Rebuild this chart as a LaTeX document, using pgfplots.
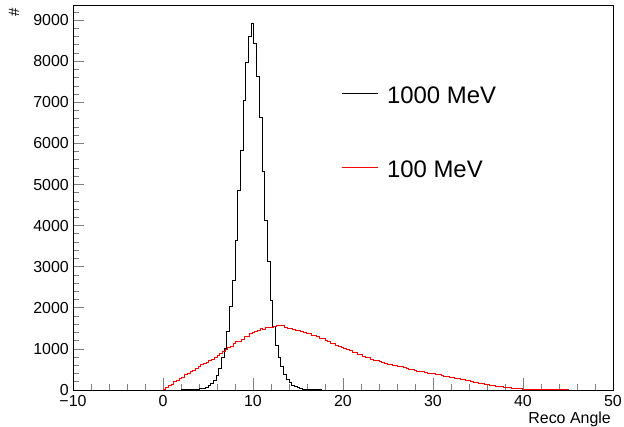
\documentclass[border=0pt]{standalone}
\usepackage{fontspec}
\setmainfont{Liberation Sans}
\usepackage{pgfplots}
\usepackage{pgfplotstable}
\pgfplotsset{compat=1.18}

% 200 bins of 0.3 from -10 to 50, left edge and content
\pgfplotstableread{
x y
-10 0
2.0 1
2.3 2
2.6 3
2.9 5
3.2 8
3.5 13
3.8 20
4.1 30
4.4 45
4.7 65
5.0 100
5.3 150
5.6 243
5.9 365
6.2 527
6.5 780
6.8 1010
7.1 1419
7.4 2027
7.7 2676
8.0 3649
8.3 4865
8.6 5838
8.9 7054
9.2 7963
9.5 8595
9.8 8920
10.1 8433
10.4 7638
10.7 6624
11.0 5311
11.3 4135
11.6 3122
11.9 2189
12.2 1540
12.5 1095
12.8 800
13.1 560
13.4 380
13.7 260
14.0 175
14.3 115
14.6 75
14.9 50
15.2 32
15.5 20
15.8 12
16.1 8
16.4 5
16.7 3
17.0 2
17.3 1
17.6 0
50 0
}\hthousand

\pgfplotstableread{
x y
-10 0
0.0 20
0.3 60
0.6 110
0.9 140
1.2 200
1.5 230
1.8 290
2.1 310
2.4 370
2.7 390
3.0 450
3.3 470
3.6 530
3.9 560
4.2 620
4.5 640
4.8 680
5.1 730
5.4 750
5.7 800
6.0 840
6.3 900
6.6 930
6.9 990
7.2 1030
7.5 1060
7.8 1120
8.1 1170
8.4 1190
8.7 1240
9.0 1290
9.3 1310
9.6 1370
9.9 1390
10.2 1430
10.5 1450
10.8 1490
11.1 1480
11.4 1510
11.7 1530
12.0 1520
12.3 1550
12.6 1570
12.9 1580
13.2 1560
13.5 1530
13.8 1500
14.1 1500
14.4 1470
14.7 1460
15.0 1450
15.3 1430
15.6 1390
15.9 1380
16.2 1370
16.5 1330
16.8 1320
17.1 1300
17.4 1260
17.7 1250
18.0 1200
18.3 1190
18.6 1140
18.9 1120
19.2 1080
19.5 1070
19.8 1030
20.1 1000
20.4 990
20.7 950
21.0 920
21.3 910
21.6 870
21.9 860
22.2 820
22.5 800
22.8 780
23.1 750
23.4 720
23.7 710
24.0 700
24.3 670
24.6 650
24.9 630
25.2 630
25.5 600
25.8 590
26.1 570
26.4 560
26.7 540
27.0 530
27.3 500
27.6 490
27.9 480
28.2 460
28.5 450
28.8 440
29.1 430
29.4 410
29.7 400
30.0 400
30.3 380
30.6 370
30.9 350
31.2 340
31.5 330
31.8 310
32.1 300
32.4 280
32.7 270
33.0 260
33.3 250
33.6 230
33.9 220
34.2 200
34.5 190
34.8 180
35.1 170
35.4 160
35.7 140
36.0 130
36.3 120
36.6 110
36.9 95
37.2 90
37.5 78
37.8 70
38.1 62
38.4 55
38.7 48
39.0 42
39.3 35
39.6 30
39.9 24
40.2 20
40.5 17
40.8 15
41.1 12
41.4 10
41.7 9
42.0 7
42.3 6
42.6 5
42.9 4
43.2 3
43.5 3
43.8 2
44.1 2
44.4 1
44.7 1
45.0 0
50 0
}\hhundred

\begin{document}
\begin{tikzpicture}
\path[use as bounding box] (0,0) rectangle (624bp,427bp);
\begin{axis}[
    at={(73bp,37bp)}, anchor=south west,
    scale only axis,
    width=540bp, height=385bp,
    xmin=-10, xmax=50,
    ymin=0, ymax=9370,
    axis line style={line width=0.8bp},
    tick pos=left,
    tick align=inside,
    xtick={-10,0,...,50},
    xticklabels={−10,0,10,20,30,40,50},
    minor xtick={-10,-8,...,50},
    ytick={0,1000,...,9000},
    minor ytick={0,200,...,9200},
    scaled y ticks=false,
    /pgf/number format/1000 sep={},
    /pgf/number format/assume math mode=true,
    major tick length=11.5bp,
    minor tick length=6bp,
    xtick style={line width=0.8bp},
    ytick style={line width=0.8bp},
    ticklabel style={font=\fontsize{16}{18}\selectfont, inner sep=0pt},
    xticklabel style={anchor=north, yshift=-5.5bp},
    yticklabel style={anchor=east, xshift=-4bp},
    xlabel={Reco Angle},
    every axis x label/.style={at={(rel axis cs:1,0)}, anchor=base east,
        xshift=-2bp, yshift=-33bp, inner sep=0pt,
        font=\fontsize{16}{18}\selectfont},
    legend style={at={(rel axis cs:0.496,0.79)}, anchor=north west,
        draw=none, fill=none, inner sep=0pt,
        nodes={inner sep=0pt, text height=17bp, text depth=0bp},
        font=\fontsize{24}{28}\selectfont,
        row sep=57bp},
    legend cell align=left,
    legend image code/.code={\draw[#1] (0bp,1bp) -- (36bp,1bp); \path (45bp,0bp);},
]
\addplot[const plot mark left, black, line width=1bp] table[x=x, y=y] {\hthousand};
\addlegendentry{1000 MeV}
\addplot[const plot mark left, red, line width=1bp] table[x=x, y=y] {\hhundred};
\addlegendentry{100 MeV}
\end{axis}
\node[rotate=90, inner sep=0pt, font=\fontsize{15}{18}\selectfont] at (14bp,415bp) {\#};
\end{tikzpicture}
\end{document}
